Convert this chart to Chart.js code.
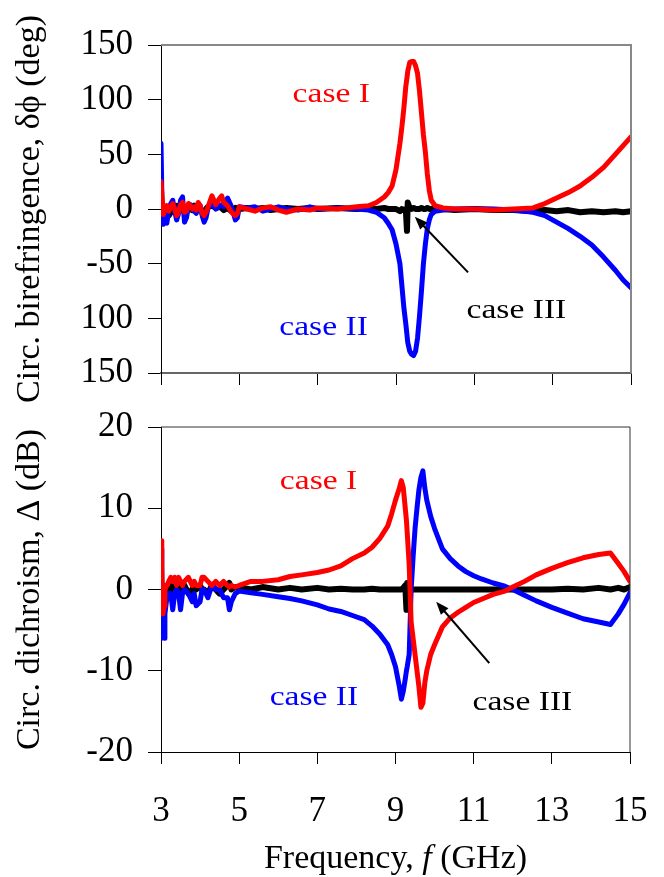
<!DOCTYPE html>
<html>
<head>
<meta charset="utf-8">
<script src="https://cdn.jsdelivr.net/npm/chart.js@4"></script>
<style>
  body { margin: 0; background: #fff; }
  #wrap { position: relative; width: 664px; height: 877px; }
  canvas { position: absolute; left: 0; top: 0; }
</style>
</head>
<body>
<div id="wrap">
  <canvas id="topChart" width="664" height="877"></canvas>
  <canvas id="botChart" width="664" height="877"></canvas>
</div>
<script>
// x ticks (GHz)
var freqTicks = [3, 5, 7, 9, 11, 13, 15]

// top panel: circular birefringence (deg)
var yTicksTop = [150, 100, 50, 0, -50, -100, -150]
var yLabelsTop = ['150', '100', '50', '0', '-50', '100', '150']
var freqTop = [3.0,3.03,3.06,3.1,3.15,3.2,3.25,3.3,3.35,3.4,
  3.45,3.5,3.55,3.6,3.65,3.7,3.75,3.8,3.85,3.9,
  3.95,4.0,4.05,4.1,4.15,4.2,4.3,4.4,4.5,4.55,
  4.6,4.7,4.8,4.9,4.95,5.0,5.2,5.4,5.6,5.8,
  6.0,6.2,6.5,6.8,7.0,7.5,8.0,8.3,8.5,8.7,
  8.8,8.9,9.0,9.1,9.15,9.2,9.25,9.28,9.3,9.35,
  9.4,9.45,9.5,9.55,9.6,9.65,9.7,9.75,9.8,9.85,
  9.9,10.0,10.2,10.5,11.0,11.5,12.0,12.5,12.8,13.1,
  13.4,13.7,14.0,14.3,14.6,14.8,15.0]
var caseITop = [25,10,-5,0,3,-2,2,5,0,-6,
  -3,4,6,-3,-2,5,3,0,2,-1,
  6,3,-4,-6,-3,2,12,4,10,12,
  6,3,-3,-6,-4,2,0,-2,1,2,
  -1,-3,0,-1,1,0,2,3,6,11,
  15,21,36,60,75,92,112,120,126,134,
  135,135,131,124,108,88,68,52,32,17,
  8,3,1,0,0,-1,0,1,5,10,
  15,21,29,38,50,58,66]
var caseIITop = [60,-5,-14,-8,-13,0,5,8,-2,-10,
  -4,8,11,-12,-8,2,4,2,-2,-4,
  2,3,-6,-12,-8,1,5,0,3,4,
  2,10,2,-10,-8,2,1,2,-2,0,
  2,0,-1,2,0,1,0,-1,-3,-8,
  -13,-19,-32,-50,-70,-90,-105,-115,-122,-130,
  -133,-134,-130,-118,-98,-75,-50,-32,-18,-10,
  -5,-2,-1,0,0,0,-1,-3,-6,-12,
  -18,-25,-33,-44,-56,-65,-72]
var caseIIITop = [0,-2,-5,2,0,-6,-3,2,-2,3,
  0,3,2,-1,1,3,2,-1,3,1,
  2,0,-3,-4,0,2,3,1,2,1,
  -1,1,-2,1,-1,0,1,0,1,-1,
  0,1,0,1,0,1,0,1,0,1,
  0,0,0,-2,0,-1,0,-20,6,1,
  0,1,0,0,0,1,0,0,1,0,
  0,1,0,-1,0,-1,-1,-2,-1,-2,
  -1,-3,-2,-3,-2,-3,-2]

// bottom panel: circular dichroism (dB)
var yTicksBot = [20, 10, 0, -10, -20]
var freqBot = [3.0,3.02,3.05,3.08,3.1,3.15,3.2,3.25,3.3,3.35,
  3.4,3.45,3.5,3.55,3.6,3.7,3.8,3.85,3.9,4.0,
  4.05,4.1,4.2,4.3,4.4,4.5,4.6,4.7,4.75,4.8,
  4.9,5.0,5.3,5.6,6.0,6.3,6.6,7.0,7.3,7.6,
  7.9,8.2,8.4,8.6,8.8,8.9,9.0,9.1,9.15,9.2,
  9.25,9.28,9.3,9.35,9.4,9.45,9.5,9.55,9.6,9.65,
  9.7,9.75,9.8,9.9,10.0,10.2,10.4,10.6,10.8,11.0,
  11.2,11.5,11.8,12.0,12.3,12.6,13.0,13.4,13.8,14.2,
  14.5,14.7,14.85,15.0]
var caseIBot = [6,3,-3,-2,0,0.5,1,1.5,1,1.5,
  0.5,1.5,1,0.5,1,1.5,0.5,1,0.5,0.5,
  1.5,1.5,1,0.5,1,0.5,1,0.5,0.3,0.5,
  0.3,0.5,1,1,1.2,1.6,1.8,2.1,2.4,2.9,
  3.8,4.5,5.2,6.3,7.8,9.3,11,12.5,13.4,12.5,
  10,8.5,7,3,-4,-6,-8,-10,-12,-14.5,
  -14,-11.5,-10,-8,-6.8,-4.6,-3.5,-2.8,-2.2,-1.6,
  -1.2,-0.6,-0.2,0.3,1,1.8,2.6,3.3,3.9,4.3,
  4.5,3.2,2.2,1.0]
var caseIIBot = [5,-6,-5,-6,-3,-1,-0.5,-0.5,-2.5,-0.5,
  0,-0.5,-2.5,-0.5,0,-0.5,-1.5,-0.5,-2,-1.5,
  0,0,-1,0.5,0,0,-1,-1,-2.5,-1.5,
  -0.5,-0.2,-0.4,-0.6,-0.9,-1.1,-1.4,-1.9,-2.4,-2.7,
  -3.2,-3.7,-4.5,-5.5,-6.8,-8,-9.5,-12,-13.5,-12.5,
  -11,-10,-9.5,-8,0,4,7.5,10,12.3,13.8,
  14.6,12.5,11,9,7.5,5,3.8,2.9,2.2,1.7,
  1.3,0.8,0.4,0,-0.7,-1.4,-2.2,-2.9,-3.6,-4,
  -4.3,-3,-1.8,-0.4]
var caseIIIBot = [0,-1,0.5,-1,-1,0,-1,0,0.5,1,
  0,0.5,-0.5,0,0.5,-0.5,0,0.5,0,0.5,
  0,0,-0.5,0.5,0,-0.5,0,0.5,0.8,0,
  0.3,0.3,0,0.3,0,0.2,0,0.2,0,0.1,
  0,0,0.1,0,0,0,0,0,0,0.2,
  0.5,-2.5,0.8,0,0,0,0,0,0,0,
  0,0,0,0,0,0,0,0,0,0,
  0,0,0,0,0,0,0,0.1,0,0.2,
  0,0.2,0,0.3]

Chart.defaults.font.family = '"Liberation Serif", "Times New Roman", serif'
Chart.defaults.color = '#000'

function pts(xs, ys) {
  return xs.map(function (x, i) { return { x: x, y: ys[i] } })
}

function line(label, xs, ys, color, w) {
  return {
    label: label,
    data: pts(xs, ys),
    borderColor: color,
    borderWidth: w,
    pointRadius: 0,
    borderJoinStyle: 'round',
    borderCapStyle: 'round',
    fill: false
  }
}

// frame, labels and arrow drawn on top of each panel
function overlay(id, boxColor, boxWidth, notes, arrow, xTitle) {
  return {
    id: id,
    afterDraw: function (chart) {
      var ctx = chart.ctx, a = chart.chartArea
      var sx = chart.scales.x, sy = chart.scales.y
      ctx.save()
      ctx.strokeStyle = boxColor
      ctx.lineWidth = boxWidth
      ctx.beginPath()
      ctx.moveTo(a.left, a.top)
      ctx.lineTo(a.right, a.top)
      ctx.lineTo(a.right, a.bottom)
      ctx.stroke()

      ctx.font = '28px "Liberation Serif"'
      ctx.textBaseline = 'alphabetic'
      notes.forEach(function (n) {
        ctx.save()
        ctx.translate(sx.getPixelForValue(n.x), sy.getPixelForValue(n.y))
        ctx.scale(1.2, 1)
        ctx.fillStyle = n.color
        ctx.fillText(n.text, 0, 0)
        ctx.restore()
      })

      var x1 = sx.getPixelForValue(arrow.from[0]), y1 = sy.getPixelForValue(arrow.from[1])
      var x2 = sx.getPixelForValue(arrow.to[0]), y2 = sy.getPixelForValue(arrow.to[1])
      var ang = Math.atan2(y2 - y1, x2 - x1)
      ctx.strokeStyle = '#000'
      ctx.fillStyle = '#000'
      ctx.lineWidth = 2
      ctx.beginPath()
      ctx.moveTo(x1, y1)
      ctx.lineTo(x2 - 8 * Math.cos(ang), y2 - 8 * Math.sin(ang))
      ctx.stroke()
      ctx.beginPath()
      ctx.moveTo(x2, y2)
      ctx.lineTo(x2 - 13 * Math.cos(ang) + 5 * Math.sin(ang), y2 - 13 * Math.sin(ang) - 5 * Math.cos(ang))
      ctx.lineTo(x2 - 13 * Math.cos(ang) - 5 * Math.sin(ang), y2 - 13 * Math.sin(ang) + 5 * Math.cos(ang))
      ctx.closePath()
      ctx.fill()

      if (xTitle) {
        ctx.fillStyle = '#000'
        var f1 = '34px "Liberation Serif"', f2 = 'italic 34px "Liberation Serif"'
        var parts = [['Frequency, ', f1], ['f', f2], [' (GHz)', f1]]
        var total = 0
        parts.forEach(function (p) { ctx.font = p[1]; total += ctx.measureText(p[0]).width })
        var cx = (a.left + a.right) / 2 - total / 2
        parts.forEach(function (p) {
          ctx.font = p[1]
          ctx.fillText(p[0], cx, 868)
          cx += ctx.measureText(p[0]).width
        })
      }
      ctx.restore()
    }
  }
}

function yAxis(min, max, ticks, labels, title) {
  return {
    type: 'linear',
    min: min,
    max: max,
    afterBuildTicks: function (s) { s.ticks = ticks.map(function (v) { return { value: v } }) },
    afterFit: function (s) { s.width = 161 },
    ticks: {
      font: { size: 35 },
      padding: 15,
      callback: function (v) { return labels[ticks.indexOf(v)] }
    },
    grid: { drawOnChartArea: false, drawTicks: true, tickLength: 13, color: '#000' },
    border: { display: true, color: '#000', width: 1 },
    title: { display: true, text: title, font: { size: 34 }, padding: { top: 10, bottom: 0 } }
  }
}

new Chart(document.getElementById('topChart'), {
  type: 'line',
  data: {
    datasets: [
      line('case I', freqTop, caseITop, '#ff0000', 5),
      line('case II', freqTop, caseIITop, '#0000ff', 5),
      line('case III', freqTop, caseIIITop, '#000000', 6)
    ]
  },
  options: {
    responsive: false,
    animation: false,
    devicePixelRatio: 1,
    layout: { autoPadding: false, padding: { left: 0, top: 45, right: 33, bottom: 484 } },
    plugins: { legend: { display: false }, tooltip: { enabled: false } },
    scales: {
      x: {
        type: 'linear',
        min: 3,
        max: 15,
        afterBuildTicks: function (s) { s.ticks = freqTicks.map(function (v) { return { value: v } }) },
        afterFit: function (s) { s.height = 20; s.paddingLeft = 0; s.paddingRight = 0 },
        ticks: { display: false },
        grid: { drawOnChartArea: false, drawTicks: true, tickLength: 12, color: '#000' },
        border: { display: true, color: '#666', width: 2 }
      },
      y: yAxis(-150, 150, yTicksTop, yLabelsTop, 'Circ. birefringence, δϕ (deg)')
    }
  },
  plugins: [overlay('ovTop', '#888', 2, [
    { text: 'case I', color: '#ff0000', x: 6.36, y: 98 },
    { text: 'case II', color: '#0000ff', x: 6.02, y: -115 },
    { text: 'case III', color: '#000000', x: 10.8, y: -100 }
  ], { from: [10.84, -58], to: [9.48, -7] }, false)]
})

new Chart(document.getElementById('botChart'), {
  type: 'line',
  data: {
    datasets: [
      line('case I', freqBot, caseIBot, '#ff0000', 5),
      line('case II', freqBot, caseIIBot, '#0000ff', 5),
      line('case III', freqBot, caseIIIBot, '#000000', 6)
    ]
  },
  options: {
    responsive: false,
    animation: false,
    devicePixelRatio: 1,
    layout: { autoPadding: false, padding: { left: 0, top: 427, right: 34, bottom: 0 } },
    plugins: { legend: { display: false }, tooltip: { enabled: false } },
    scales: {
      x: {
        type: 'linear',
        min: 3,
        max: 15,
        afterBuildTicks: function (s) { s.ticks = freqTicks.map(function (v) { return { value: v } }) },
        afterFit: function (s) { s.height = 125; s.paddingLeft = 0; s.paddingRight = 0 },
        ticks: { font: { size: 35 }, padding: 27, maxRotation: 0, autoSkip: false },
        grid: { drawOnChartArea: false, drawTicks: true, tickLength: 12, color: '#000' },
        border: { display: true, color: '#000', width: 1 }
      },
      y: yAxis(-20, 20, yTicksBot, ['20', '10', '0', '-10', '-20'], 'Circ. dichroism, Δ (dB)')
    }
  },
  plugins: [overlay('ovBot', '#333', 1, [
    { text: 'case I', color: '#ff0000', x: 6.04, y: 12.4 },
    { text: 'case II', color: '#0000ff', x: 5.78, y: -14.2 },
    { text: 'case III', color: '#000000', x: 10.97, y: -14.8 }
  ], { from: [11.4, -9.05], to: [10.04, -1.5] }, true)]
})
</script>
</body>
</html>
